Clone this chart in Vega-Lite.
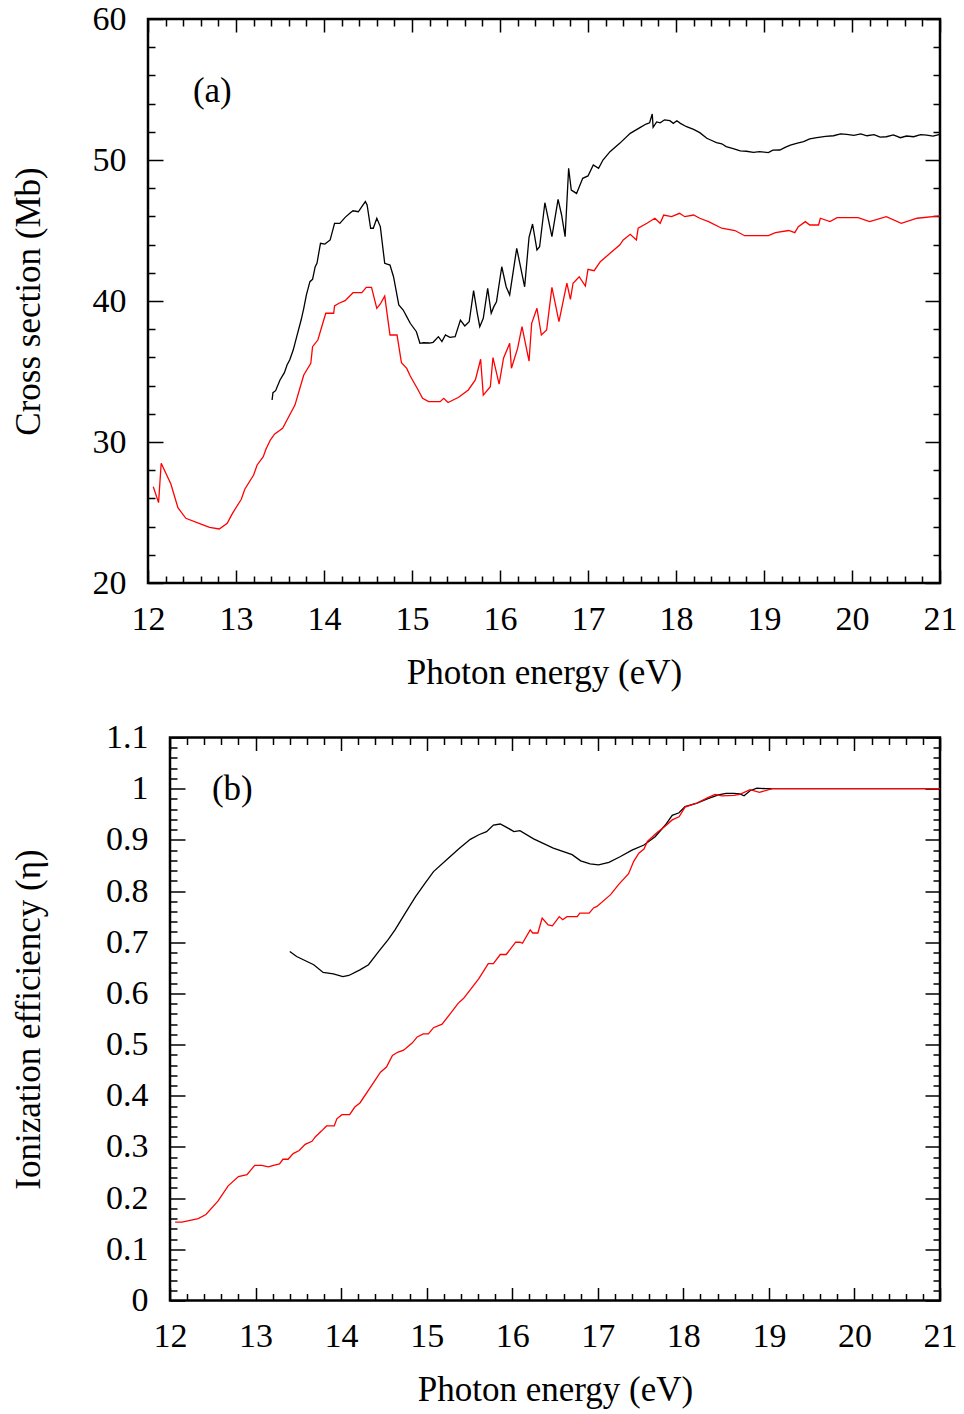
{
  "$schema": "https://vega.github.io/schema/vega-lite/v6.json",
  "padding": {"left": 8, "top": 0, "right": 5, "bottom": 5},
  "background": "white",
  "config": {
    "view": {"stroke": "black", "strokeWidth": 2.5},
    "font": "Liberation Serif",
    "axis": {
      "domain": false, "grid": false, "tickColor": "black", "tickWidth": 1.5,
      "labelFont": "Liberation Serif", "labelFontSize": 34, "labelColor": "black",
      "titleFont": "Liberation Serif", "titleFontSize": 35, "titleFontWeight": "normal", "titleColor": "black",
      "labelFlush": false, "labelOverlap": false, "labelBound": false
    }
  },
  "datasets": {
    "sigmaBlack": [
      {"E":13.41,"v":32.98},{"E":13.42,"v":33.5},{"E":13.45,"v":33.64},{"E":13.5,"v":34.4},{"E":13.55,"v":34.92},{"E":13.58,"v":35.46},{"E":13.61,"v":35.82},{"E":13.65,"v":36.52},{"E":13.69,"v":37.47},{"E":13.74,"v":38.65},{"E":13.77,"v":39.48},{"E":13.8,"v":40.43},{"E":13.84,"v":41.37},{"E":13.87,"v":41.54},{"E":13.9,"v":42.43},{"E":13.92,"v":42.67},{"E":13.96,"v":44.09},{"E":14.01,"v":44.04},{"E":14.07,"v":44.33},{"E":14.12,"v":45.51},{"E":14.18,"v":45.51},{"E":14.24,"v":45.93},{"E":14.3,"v":46.26},{"E":14.33,"v":46.4},{"E":14.39,"v":46.33},{"E":14.43,"v":46.69},{"E":14.47,"v":47.05},{"E":14.49,"v":46.81},{"E":14.53,"v":45.16},{"E":14.56,"v":45.16},{"E":14.6,"v":45.87},{"E":14.64,"v":45.28},{"E":14.69,"v":42.67},{"E":14.75,"v":42.55},{"E":14.79,"v":41.72},{"E":14.85,"v":39.72},{"E":14.9,"v":39.36},{"E":14.94,"v":38.89},{"E":14.98,"v":38.42},{"E":15.05,"v":37.82},{"E":15.09,"v":37.0},{"E":15.13,"v":37.04},{"E":15.2,"v":37.02},{"E":15.24,"v":37.07},{"E":15.3,"v":37.47},{"E":15.34,"v":37.12},{"E":15.38,"v":37.59},{"E":15.43,"v":37.42},{"E":15.49,"v":37.47},{"E":15.55,"v":38.65},{"E":15.6,"v":38.23},{"E":15.65,"v":38.53},{"E":15.7,"v":40.73},{"E":15.74,"v":39.2},{"E":15.77,"v":38.18},{"E":15.81,"v":38.77},{"E":15.86,"v":40.9},{"E":15.9,"v":39.13},{"E":15.93,"v":39.6},{"E":15.96,"v":39.95},{"E":16.02,"v":42.43},{"E":16.07,"v":41.01},{"E":16.11,"v":40.43},{"E":16.19,"v":43.74},{"E":16.28,"v":41.01},{"E":16.33,"v":44.52},{"E":16.37,"v":45.46},{"E":16.42,"v":43.62},{"E":16.45,"v":43.85},{"E":16.51,"v":46.97},{"E":16.59,"v":44.56},{"E":16.66,"v":47.21},{"E":16.7,"v":46.1},{"E":16.74,"v":44.56},{"E":16.78,"v":49.41},{"E":16.81,"v":47.87},{"E":16.87,"v":47.63},{"E":16.94,"v":48.7},{"E":17.0,"v":48.87},{"E":17.06,"v":49.65},{"E":17.12,"v":49.41},{"E":17.17,"v":50.0},{"E":17.25,"v":50.59},{"E":17.36,"v":51.18},{"E":17.48,"v":51.89},{"E":17.59,"v":52.3},{"E":17.66,"v":52.55},{"E":17.7,"v":52.64},{"E":17.73,"v":53.26},{"E":17.74,"v":52.32},{"E":17.78,"v":52.7},{"E":17.82,"v":52.64},{"E":17.87,"v":52.85},{"E":17.93,"v":52.79},{"E":17.97,"v":52.6},{"E":18.01,"v":52.78},{"E":18.05,"v":52.6},{"E":18.12,"v":52.36},{"E":18.2,"v":52.17},{"E":18.27,"v":51.94},{"E":18.35,"v":51.54},{"E":18.4,"v":51.4},{"E":18.46,"v":51.23},{"E":18.52,"v":51.15},{"E":18.57,"v":50.95},{"E":18.65,"v":50.8},{"E":18.73,"v":50.64},{"E":18.8,"v":50.62},{"E":18.88,"v":50.54},{"E":18.95,"v":50.6},{"E":19.05,"v":50.52},{"E":19.1,"v":50.7},{"E":19.18,"v":50.71},{"E":19.24,"v":50.9},{"E":19.3,"v":51.06},{"E":19.38,"v":51.2},{"E":19.45,"v":51.3},{"E":19.52,"v":51.5},{"E":19.6,"v":51.58},{"E":19.7,"v":51.68},{"E":19.79,"v":51.72},{"E":19.87,"v":51.85},{"E":19.94,"v":51.82},{"E":20.02,"v":51.75},{"E":20.1,"v":51.85},{"E":20.17,"v":51.72},{"E":20.25,"v":51.8},{"E":20.32,"v":51.62},{"E":20.39,"v":51.65},{"E":20.47,"v":51.78},{"E":20.55,"v":51.58},{"E":20.62,"v":51.7},{"E":20.7,"v":51.65},{"E":20.78,"v":51.8},{"E":20.85,"v":51.77},{"E":20.92,"v":51.7},{"E":21.0,"v":51.82}
    ],
    "sigmaRed": [
      {"E":12.06,"v":26.83},{"E":12.12,"v":25.7},{"E":12.15,"v":28.49},{"E":12.26,"v":27.02},{"E":12.34,"v":25.34},{"E":12.43,"v":24.59},{"E":12.61,"v":24.16},{"E":12.7,"v":23.95},{"E":12.81,"v":23.83},{"E":12.9,"v":24.23},{"E":12.96,"v":24.94},{"E":13.06,"v":25.94},{"E":13.1,"v":26.65},{"E":13.2,"v":27.66},{"E":13.24,"v":28.37},{"E":13.31,"v":28.96},{"E":13.34,"v":29.48},{"E":13.39,"v":30.14},{"E":13.44,"v":30.57},{"E":13.53,"v":30.97},{"E":13.59,"v":31.68},{"E":13.67,"v":32.62},{"E":13.72,"v":33.69},{"E":13.77,"v":34.75},{"E":13.85,"v":35.58},{"E":13.87,"v":36.76},{"E":13.93,"v":37.23},{"E":14.02,"v":39.13},{"E":14.11,"v":39.13},{"E":14.12,"v":39.65},{"E":14.17,"v":39.84},{"E":14.24,"v":40.02},{"E":14.33,"v":40.59},{"E":14.43,"v":40.59},{"E":14.48,"v":40.97},{"E":14.54,"v":40.97},{"E":14.6,"v":39.48},{"E":14.64,"v":39.79},{"E":14.69,"v":40.35},{"E":14.75,"v":37.59},{"E":14.83,"v":37.59},{"E":14.88,"v":35.62},{"E":14.94,"v":35.22},{"E":14.98,"v":34.68},{"E":15.07,"v":33.69},{"E":15.12,"v":33.1},{"E":15.19,"v":32.86},{"E":15.32,"v":32.86},{"E":15.36,"v":33.1},{"E":15.41,"v":32.8},{"E":15.53,"v":33.17},{"E":15.64,"v":33.69},{"E":15.72,"v":34.4},{"E":15.78,"v":35.87},{"E":15.81,"v":33.33},{"E":15.89,"v":33.92},{"E":15.92,"v":35.98},{"E":15.99,"v":34.11},{"E":16.04,"v":35.94},{"E":16.11,"v":37.0},{"E":16.13,"v":35.23},{"E":16.2,"v":36.64},{"E":16.25,"v":38.18},{"E":16.33,"v":35.74},{"E":16.36,"v":38.42},{"E":16.42,"v":39.48},{"E":16.47,"v":37.59},{"E":16.53,"v":37.94},{"E":16.59,"v":40.97},{"E":16.67,"v":38.53},{"E":16.76,"v":41.26},{"E":16.8,"v":40.12},{"E":16.83,"v":41.26},{"E":16.9,"v":41.72},{"E":16.97,"v":41.06},{"E":17.0,"v":42.25},{"E":17.07,"v":42.15},{"E":17.14,"v":42.79},{"E":17.25,"v":43.38},{"E":17.36,"v":43.97},{"E":17.4,"v":44.33},{"E":17.48,"v":44.73},{"E":17.55,"v":44.33},{"E":17.57,"v":45.16},{"E":17.67,"v":45.51},{"E":17.76,"v":45.87},{"E":17.82,"v":45.51},{"E":17.86,"v":46.1},{"E":17.95,"v":45.98},{"E":18.04,"v":46.22},{"E":18.1,"v":45.98},{"E":18.2,"v":46.1},{"E":18.27,"v":45.87},{"E":18.37,"v":45.63},{"E":18.52,"v":45.16},{"E":18.67,"v":45.0},{"E":18.78,"v":44.63},{"E":19.05,"v":44.63},{"E":19.13,"v":44.85},{"E":19.28,"v":45.0},{"E":19.35,"v":44.85},{"E":19.39,"v":45.27},{"E":19.47,"v":45.63},{"E":19.52,"v":45.39},{"E":19.62,"v":45.39},{"E":19.64,"v":45.87},{"E":19.75,"v":45.63},{"E":19.83,"v":45.91},{"E":20.07,"v":45.91},{"E":20.2,"v":45.63},{"E":20.39,"v":45.98},{"E":20.56,"v":45.51},{"E":20.74,"v":45.87},{"E":21.0,"v":46.03}
    ],
    "etaBlack": [
      {"E":13.4,"v":0.682},{"E":13.48,"v":0.672},{"E":13.68,"v":0.656},{"E":13.79,"v":0.641},{"E":13.91,"v":0.638},{"E":14.02,"v":0.633},{"E":14.09,"v":0.635},{"E":14.22,"v":0.646},{"E":14.32,"v":0.656},{"E":14.44,"v":0.682},{"E":14.55,"v":0.705},{"E":14.63,"v":0.724},{"E":14.75,"v":0.757},{"E":14.87,"v":0.789},{"E":14.98,"v":0.815},{"E":15.08,"v":0.838},{"E":15.24,"v":0.862},{"E":15.38,"v":0.883},{"E":15.51,"v":0.901},{"E":15.61,"v":0.91},{"E":15.7,"v":0.916},{"E":15.78,"v":0.929},{"E":15.86,"v":0.931},{"E":15.94,"v":0.924},{"E":16.02,"v":0.916},{"E":16.09,"v":0.918},{"E":16.25,"v":0.902},{"E":16.48,"v":0.884},{"E":16.7,"v":0.871},{"E":16.8,"v":0.859},{"E":16.91,"v":0.853},{"E":17.01,"v":0.851},{"E":17.13,"v":0.856},{"E":17.26,"v":0.867},{"E":17.4,"v":0.88},{"E":17.54,"v":0.89},{"E":17.67,"v":0.906},{"E":17.79,"v":0.929},{"E":17.87,"v":0.948},{"E":17.95,"v":0.953},{"E":18.02,"v":0.965},{"E":18.16,"v":0.972},{"E":18.28,"v":0.98},{"E":18.41,"v":0.988},{"E":18.5,"v":0.991},{"E":18.59,"v":0.991},{"E":18.66,"v":0.99},{"E":18.71,"v":0.986},{"E":18.78,"v":0.996},{"E":18.86,"v":1.001},{"E":18.96,"v":1.0},{"E":19.04,"v":1.0},{"E":21.0,"v":1.0}
    ],
    "etaRed": [
      {"E":12.06,"v":0.153},{"E":12.14,"v":0.153},{"E":12.33,"v":0.16},{"E":12.42,"v":0.168},{"E":12.56,"v":0.194},{"E":12.68,"v":0.224},{"E":12.8,"v":0.242},{"E":12.9,"v":0.246},{"E":12.99,"v":0.264},{"E":13.07,"v":0.264},{"E":13.15,"v":0.261},{"E":13.21,"v":0.264},{"E":13.28,"v":0.267},{"E":13.32,"v":0.276},{"E":13.38,"v":0.276},{"E":13.44,"v":0.287},{"E":13.51,"v":0.293},{"E":13.58,"v":0.305},{"E":13.66,"v":0.311},{"E":13.7,"v":0.32},{"E":13.77,"v":0.331},{"E":13.83,"v":0.341},{"E":13.92,"v":0.341},{"E":13.95,"v":0.355},{"E":14.01,"v":0.363},{"E":14.1,"v":0.363},{"E":14.16,"v":0.378},{"E":14.22,"v":0.386},{"E":14.34,"v":0.416},{"E":14.46,"v":0.446},{"E":14.53,"v":0.456},{"E":14.6,"v":0.479},{"E":14.66,"v":0.485},{"E":14.73,"v":0.489},{"E":14.83,"v":0.503},{"E":14.89,"v":0.515},{"E":14.96,"v":0.521},{"E":15.02,"v":0.521},{"E":15.08,"v":0.533},{"E":15.18,"v":0.54},{"E":15.27,"v":0.559},{"E":15.37,"v":0.581},{"E":15.43,"v":0.59},{"E":15.61,"v":0.629},{"E":15.72,"v":0.658},{"E":15.78,"v":0.658},{"E":15.86,"v":0.676},{"E":15.93,"v":0.676},{"E":16.04,"v":0.7},{"E":16.09,"v":0.7},{"E":16.12,"v":0.698},{"E":16.21,"v":0.724},{"E":16.24,"v":0.718},{"E":16.3,"v":0.718},{"E":16.35,"v":0.747},{"E":16.42,"v":0.734},{"E":16.47,"v":0.732},{"E":16.55,"v":0.75},{"E":16.59,"v":0.744},{"E":16.64,"v":0.75},{"E":16.76,"v":0.75},{"E":16.79,"v":0.757},{"E":16.9,"v":0.757},{"E":16.95,"v":0.767},{"E":16.99,"v":0.77},{"E":17.15,"v":0.793},{"E":17.24,"v":0.812},{"E":17.36,"v":0.834},{"E":17.42,"v":0.858},{"E":17.48,"v":0.874},{"E":17.54,"v":0.882},{"E":17.58,"v":0.897},{"E":17.69,"v":0.914},{"E":17.79,"v":0.927},{"E":17.87,"v":0.939},{"E":17.95,"v":0.945},{"E":18.02,"v":0.964},{"E":18.16,"v":0.972},{"E":18.28,"v":0.982},{"E":18.37,"v":0.989},{"E":18.45,"v":0.986},{"E":18.59,"v":0.987},{"E":18.66,"v":0.989},{"E":18.78,"v":0.998},{"E":18.89,"v":0.993},{"E":19.04,"v":1.0},{"E":21.0,"v":1.0}
    ]
  },
  "concat": [
    {"hconcat": [
    {
      "width": 1, "height": 1,
      "view": {"stroke": null},
      "data": {"values": []},
      "mark": {"type": "point", "opacity": 0}
    },
    {
      "width": 792, "height": 564,
      "layer": [
        {
          "data": {"name": "sigmaBlack"},
          "mark": {"type": "line", "color": "black", "strokeWidth": 1.3},
          "encoding": {
            "x": {"field": "E", "type": "quantitative", "scale": {"domain": [12, 21], "nice": false, "zero": false},
              "axis": {"orient": "bottom", "values": [12,13,14,15,16,17,18,19,20,21], "format": "d", "tickSize": -13, "labelPadding": 32, "labelDx": 5, "title": "Photon energy (eV)", "titlePadding": 19}},
            "y": {"field": "v", "type": "quantitative", "scale": {"domain": [20, 60], "nice": false, "zero": false},
              "axis": {"orient": "left", "values": [20,30,40,50,60], "format": "d", "tickSize": -15, "labelPadding": 37, "title": "Cross section (Mb)", "titlePadding": 46}}
          }
        },
        {
          "data": {"name": "sigmaRed"},
          "mark": {"type": "line", "color": "#ff0000", "strokeWidth": 1.3},
          "encoding": {
            "x": {"field": "E", "type": "quantitative", "scale": {"domain": [12, 21], "nice": false, "zero": false},
              "axis": {"orient": "bottom", "values": [12.2,12.4,12.6,12.8,13.2,13.4,13.6,13.8,14.2,14.4,14.6,14.8,15.2,15.4,15.6,15.8,16.2,16.4,16.6,16.8,17.2,17.4,17.6,17.8,18.2,18.4,18.6,18.8,19.2,19.4,19.6,19.8,20.2,20.4,20.6,20.8], "tickSize": -7, "labels": false, "title": null}},
            "y": {"field": "v", "type": "quantitative", "scale": {"domain": [20, 60], "nice": false, "zero": false},
              "axis": {"orient": "left", "values": [22,24,26,28,32,34,36,38,42,44,46,48,52,54,56,58], "tickSize": -7, "labels": false, "title": null}}
          }
        },
        {
          "data": {"name": "sigmaRed"},
          "mark": {"type": "line", "opacity": 0},
          "encoding": {
            "x": {"field": "E", "type": "quantitative", "scale": {"domain": [12, 21], "nice": false, "zero": false},
              "axis": {"orient": "top", "values": [12,13,14,15,16,17,18,19,20,21], "tickSize": -13, "labels": false, "title": null}},
            "y": {"field": "v", "type": "quantitative", "scale": {"domain": [20, 60], "nice": false, "zero": false},
              "axis": {"orient": "right", "values": [20,30,40,50,60], "tickSize": -15, "labels": false, "title": null}}
          }
        },
        {
          "data": {"name": "sigmaRed"},
          "mark": {"type": "line", "opacity": 0},
          "encoding": {
            "x": {"field": "E", "type": "quantitative", "scale": {"domain": [12, 21], "nice": false, "zero": false},
              "axis": {"orient": "top", "values": [12.2,12.4,12.6,12.8,13.2,13.4,13.6,13.8,14.2,14.4,14.6,14.8,15.2,15.4,15.6,15.8,16.2,16.4,16.6,16.8,17.2,17.4,17.6,17.8,18.2,18.4,18.6,18.8,19.2,19.4,19.6,19.8,20.2,20.4,20.6,20.8], "tickSize": -7, "labels": false, "title": null}},
            "y": {"field": "v", "type": "quantitative", "scale": {"domain": [20, 60], "nice": false, "zero": false},
              "axis": {"orient": "right", "values": [22,24,26,28,32,34,36,38,42,44,46,48,52,54,56,58], "tickSize": -7, "labels": false, "title": null}}
          }
        },
        {
          "data": {"values": [{"label": "(a)"}]},
          "mark": {"type": "text", "font": "Liberation Serif", "fontSize": 35, "align": "left", "baseline": "middle", "color": "black"},
          "encoding": {
            "text": {"field": "label"},
            "x": {"datum": 12.51, "type": "quantitative", "scale": {"domain": [12, 21], "nice": false, "zero": false}, "axis": null},
            "y": {"datum": 54.9, "type": "quantitative", "scale": {"domain": [20, 60], "nice": false, "zero": false}, "axis": null}
          }
        }
      ],
      "resolve": {"axis": {"x": "independent", "y": "independent"}}
    }
    ], "spacing": 0},
    {"hconcat": [
    {
      "width": 1, "height": 1,
      "view": {"stroke": null},
      "data": {"values": []},
      "mark": {"type": "point", "opacity": 0}
    },
    {
      "width": 770, "height": 563,
      "layer": [
        {
          "data": {"name": "etaBlack"},
          "mark": {"type": "line", "color": "black", "strokeWidth": 1.3},
          "encoding": {
            "x": {"field": "E", "type": "quantitative", "scale": {"domain": [12, 21], "nice": false, "zero": false},
              "axis": {"orient": "bottom", "values": [12,13,14,15,16,17,18,19,20,21], "format": "d", "tickSize": -13, "labelPadding": 32, "labelDx": 5, "title": "Photon energy (eV)", "titlePadding": 19}},
            "y": {"field": "v", "type": "quantitative", "scale": {"domain": [0, 1.1], "nice": false, "zero": false},
              "axis": {"orient": "left", "values": [0,0.1,0.2,0.3,0.4,0.5,0.6,0.7,0.8,0.9,1,1.1], "format": "~g", "tickSize": -15, "labelPadding": 37, "title": "Ionization efficiency (η)", "titlePadding": 59.5}}
          }
        },
        {
          "data": {"name": "etaRed"},
          "mark": {"type": "line", "color": "#ff0000", "strokeWidth": 1.3},
          "encoding": {
            "x": {"field": "E", "type": "quantitative", "scale": {"domain": [12, 21], "nice": false, "zero": false},
              "axis": {"orient": "bottom", "values": [12.2,12.4,12.6,12.8,13.2,13.4,13.6,13.8,14.2,14.4,14.6,14.8,15.2,15.4,15.6,15.8,16.2,16.4,16.6,16.8,17.2,17.4,17.6,17.8,18.2,18.4,18.6,18.8,19.2,19.4,19.6,19.8,20.2,20.4,20.6,20.8], "tickSize": -7, "labels": false, "title": null}},
            "y": {"field": "v", "type": "quantitative", "scale": {"domain": [0, 1.1], "nice": false, "zero": false},
              "axis": {"orient": "left", "values": [0.02,0.04,0.06,0.08,0.12,0.14,0.16,0.18,0.22,0.24,0.26,0.28,0.32,0.34,0.36,0.38,0.42,0.44,0.46,0.48,0.52,0.54,0.56,0.58,0.62,0.64,0.66,0.68,0.72,0.74,0.76,0.78,0.82,0.84,0.86,0.88,0.92,0.94,0.96,0.98,1.02,1.04,1.06,1.08], "tickSize": -7, "labels": false, "title": null}}
          }
        },
        {
          "data": {"name": "etaRed"},
          "mark": {"type": "line", "opacity": 0},
          "encoding": {
            "x": {"field": "E", "type": "quantitative", "scale": {"domain": [12, 21], "nice": false, "zero": false},
              "axis": {"orient": "top", "values": [12,13,14,15,16,17,18,19,20,21], "tickSize": -13, "labels": false, "title": null}},
            "y": {"field": "v", "type": "quantitative", "scale": {"domain": [0, 1.1], "nice": false, "zero": false},
              "axis": {"orient": "right", "values": [0,0.1,0.2,0.3,0.4,0.5,0.6,0.7,0.8,0.9,1,1.1], "tickSize": -15, "labels": false, "title": null}}
          }
        },
        {
          "data": {"name": "etaRed"},
          "mark": {"type": "line", "opacity": 0},
          "encoding": {
            "x": {"field": "E", "type": "quantitative", "scale": {"domain": [12, 21], "nice": false, "zero": false},
              "axis": {"orient": "top", "values": [12.2,12.4,12.6,12.8,13.2,13.4,13.6,13.8,14.2,14.4,14.6,14.8,15.2,15.4,15.6,15.8,16.2,16.4,16.6,16.8,17.2,17.4,17.6,17.8,18.2,18.4,18.6,18.8,19.2,19.4,19.6,19.8,20.2,20.4,20.6,20.8], "tickSize": -7, "labels": false, "title": null}},
            "y": {"field": "v", "type": "quantitative", "scale": {"domain": [0, 1.1], "nice": false, "zero": false},
              "axis": {"orient": "right", "values": [0.02,0.04,0.06,0.08,0.12,0.14,0.16,0.18,0.22,0.24,0.26,0.28,0.32,0.34,0.36,0.38,0.42,0.44,0.46,0.48,0.52,0.54,0.56,0.58,0.62,0.64,0.66,0.68,0.72,0.74,0.76,0.78,0.82,0.84,0.86,0.88,0.92,0.94,0.96,0.98,1.02,1.04,1.06,1.08], "tickSize": -7, "labels": false, "title": null}}
          }
        },
        {
          "data": {"values": [{"label": "(b)"}]},
          "mark": {"type": "text", "font": "Liberation Serif", "fontSize": 35, "align": "left", "baseline": "middle", "color": "black"},
          "encoding": {
            "text": {"field": "label"},
            "x": {"datum": 12.49, "type": "quantitative", "scale": {"domain": [12, 21], "nice": false, "zero": false}, "axis": null},
            "y": {"datum": 1.0, "type": "quantitative", "scale": {"domain": [0, 1.1], "nice": false, "zero": false}, "axis": null}
          }
        }
      ],
      "resolve": {"axis": {"x": "independent", "y": "independent"}}
    }
    ], "spacing": 0}
  ],
  "columns": 1,
  "align": "none",
  "spacing": 26.5
}
